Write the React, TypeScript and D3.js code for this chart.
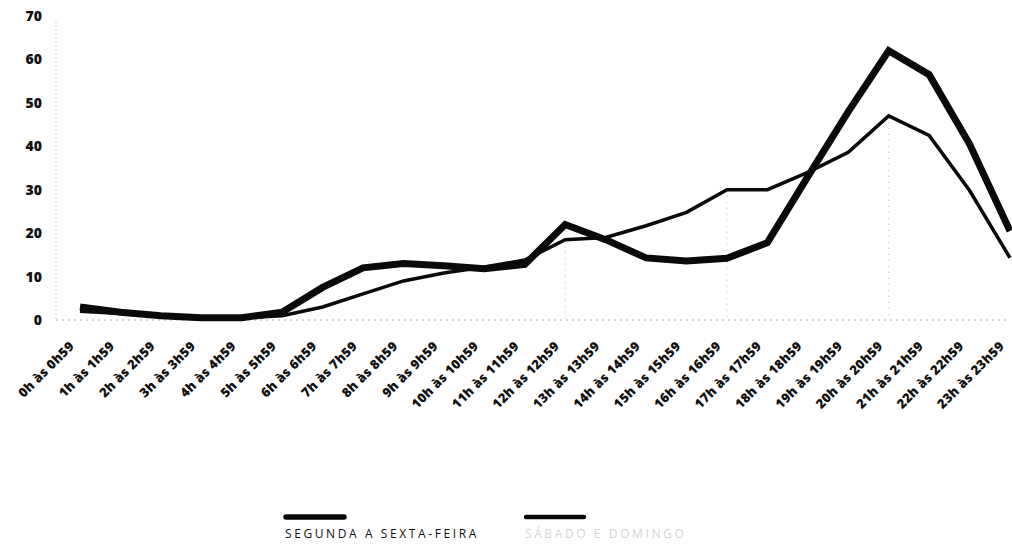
import * as d3 from 'd3';

const HOURS = [
  '0h às 0h59', '1h às 1h59', '2h às 2h59', '3h às 3h59', '4h às 4h59',
  '5h às 5h59', '6h às 6h59', '7h às 7h59', '8h às 8h59', '9h às 9h59',
  '10h às 10h59', '11h às 11h59', '12h às 12h59', '13h às 13h59',
  '14h às 14h59', '15h às 15h59', '16h às 16h59', '17h às 17h59',
  '18h às 18h59', '19h às 19h59', '20h às 20h59', '21h às 21h59',
  '22h às 22h59', '23h às 23h59',
];

// Segunda a sexta-feira (thick line)
const WEEKDAY = [
  3, 1.8, 1, 0.5, 0.5, 1.8, 7.5, 12, 13, 12.5, 11.8, 12.8,
  22, 18.5, 14.3, 13.6, 14.2, 17.8, 33, 48, 62, 56.5, 40.5, 20.5,
];

// Sábado e domingo (thin line)
const WEEKEND = [
  2, 1.5, 1, 0.5, 0.5, 1, 3, 6, 9, 10.8, 12.2, 13.8,
  18.5, 19, 21.7, 24.8, 30, 30, 34, 38.6, 47, 42.5, 29.8, 14.3,
];

const Y_TICKS = [0, 10, 20, 30, 40, 50, 60, 70];
const DROP_HOURS = ['12h às 12h59', '16h às 16h59', '20h às 20h59'];

const SERIES = [
  { name: 'SEGUNDA A SEXTA-FEIRA', values: WEEKDAY, width: 7, labelColor: '#111' },
  { name: 'SÁBADO E DOMINGO', values: WEEKEND, width: 3.5, labelColor: '#d4d4d4' },
];

const W = 1012;
const H = 560;
const FONT = '"Open Sans", Lato, sans-serif';

export default function App() {
  const x = d3.scalePoint<string>().domain(HOURS).range([80, 1010]);
  const y = d3.scaleLinear().domain([0, 70]).range([320, 16]);

  const line = d3
    .line<number>()
    .x((_, i) => x(HOURS[i]) ?? 0)
    .y((d) => y(d));

  return (
    <svg
      width={W}
      height={H}
      style={{ position: 'absolute', left: 0, top: 0, background: '#fff' }}
    >
      {/* dotted axis + baseline */}
      <line x1={56} x2={56} y1={y(70) + 6} y2={y(0)} stroke="#aaa" strokeWidth={1} strokeDasharray="1 3" />
      <line x1={56} x2={1010} y1={y(0)} y2={y(0)} stroke="#aaa" strokeWidth={1} strokeDasharray="2 4" />
      {DROP_HOURS.map((h) => (
        <line
          key={h}
          x1={x(h)}
          x2={x(h)}
          y1={y(WEEKEND[HOURS.indexOf(h)])}
          y2={y(0)}
          stroke="#bbb"
          strokeWidth={1}
          strokeDasharray="1 5"
        />
      ))}

      {Y_TICKS.map((t) => (
        <text
          key={t}
          x={42}
          y={y(t)}
          dy="0.36em"
          textAnchor="end"
          fontFamily={FONT}
          fontWeight={800}
          fontSize={14}
          fill="#111"
        >
          {t}
        </text>
      ))}

      {HOURS.map((h) => (
        <text
          key={h}
          transform={`translate(${(x(h) ?? 0) - 5},${347}) rotate(-45)`}
          textAnchor="end"
          fontFamily={FONT}
          fontWeight={800}
          fontSize={13}
          letterSpacing={0.3}
          fill="#111"
        >
          {h}
        </text>
      ))}

      {SERIES.map((s) => (
        <path
          key={s.name}
          d={line(s.values) ?? ''}
          fill="none"
          stroke="#0a0a0a"
          strokeWidth={s.width}
          strokeLinejoin="miter"
        />
      ))}

      {/* legend */}
      {SERIES.map((s, i) => {
        const lx = 285 + i * 240;
        return (
          <g key={s.name} transform={`translate(${lx},0)`}>
            <line x1={1} x2={59} y1={517} y2={517} stroke="#0a0a0a" strokeWidth={i === 0 ? 5.5 : 4.5} strokeLinecap="round" />
            <text
              x={0}
              y={538}
              fontFamily={FONT}
              fontSize={12}
              letterSpacing={2.6}
              fill={s.labelColor}
            >
              {s.name}
            </text>
          </g>
        );
      })}
    </svg>
  );
}
